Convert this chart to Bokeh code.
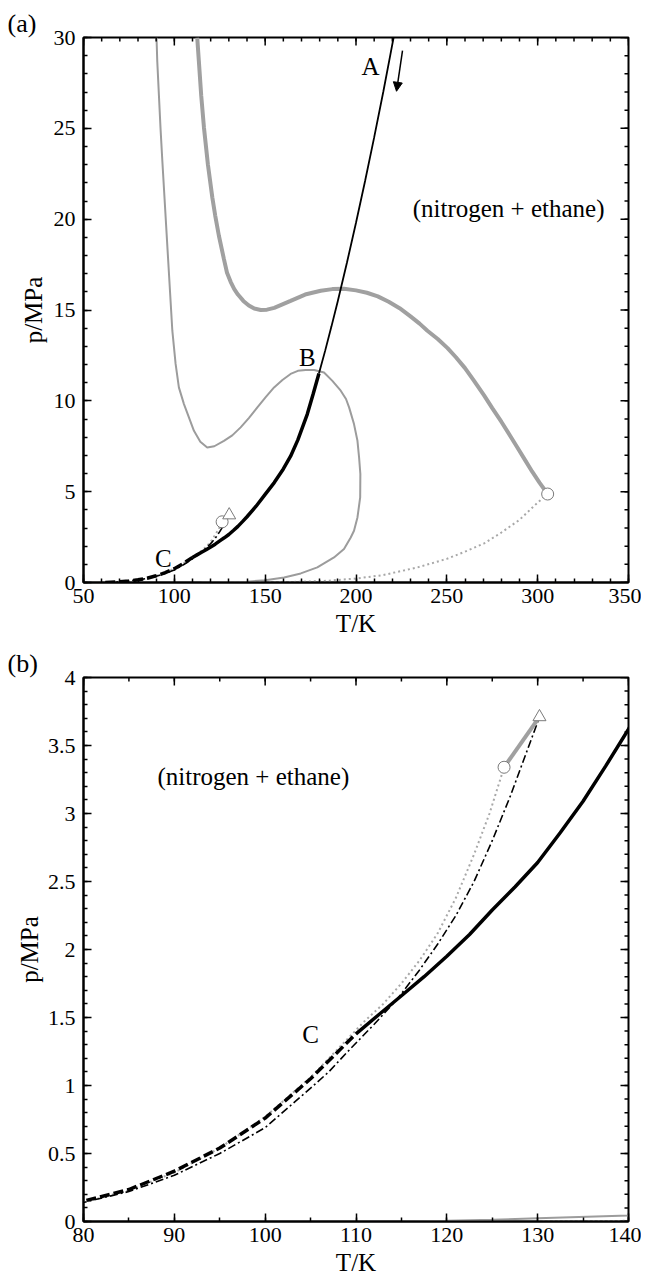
import numpy as np
from bokeh.plotting import figure
from bokeh.models import Range1d, FixedTicker, Label, Arrow, NormalHead
from bokeh.layouts import column
from bokeh.embed import file_html
from bokeh.resources import INLINE

SERIF = "Liberation Serif"

# ---------------- data (T in K, p in MPa) ----------------
# black curve: dashed part, thick solid part, thin solid part
blk_dash_T = [62, 65, 70, 75, 80, 85, 90, 95, 100, 105, 110]
blk_dash_p = [0.0, 0.015, 0.04, 0.08, 0.15, 0.235, 0.37, 0.54, 0.76, 1.05, 1.38]
blk_thick_T = [110, 112.5, 115, 117.5, 120, 122.5, 125, 127.5, 130, 132.5, 135, 137.5, 140,
               145, 150, 155, 160, 164, 168, 173.2, 176.5, 179.6]
blk_thick_p = [1.38, 1.52, 1.66, 1.80, 1.95, 2.11, 2.29, 2.46, 2.64, 2.86, 3.09, 3.35, 3.62,
               4.2, 4.85, 5.5, 6.25, 6.95, 7.85, 9.27, 10.4, 11.5]
blk_thin_T = [179.6, 183, 186.5, 190, 195, 200, 205, 210, 215, 219, 220.7]
blk_thin_p = [11.5, 12.75, 14.1, 15.5, 17.6, 19.8, 22.1, 24.5, 27.0, 29.1, 30.0]

# black dash-dot curve
dd_T = [62, 65, 70, 75, 80, 85, 90, 95, 100, 105, 107, 109.1, 112, 114.6, 117, 119, 121, 123, 125, 127, 129.6, 130.2]
dd_p = [0.0, 0.01, 0.04, 0.08, 0.14, 0.22, 0.34, 0.50, 0.69, 0.98, 1.10, 1.25, 1.45, 1.64, 1.85, 2.04, 2.25, 2.50, 2.80, 3.13, 3.60, 3.71]

# grey dotted: nitrogen vapour pressure
n2_T = [63, 70, 75, 80, 85, 90, 95, 100, 105, 110.9, 113, 115, 117, 119, 121, 123, 124.7, 126.3]
n2_p = [0.013, 0.04, 0.076, 0.14, 0.23, 0.36, 0.54, 0.77, 1.06, 1.47, 1.60, 1.75, 1.92, 2.12, 2.38, 2.70, 3.0, 3.34]

# grey dotted: ethane vapour pressure
et_T = [130, 150, 170, 185, 200, 215, 233.8, 250, 260, 270.5, 280, 290, 300, 305.5]
et_p = [0.0, 0.01, 0.04, 0.10, 0.22, 0.41, 0.83, 1.30, 1.70, 2.15, 2.75, 3.45, 4.4, 4.87]

# grey thick: critical line
cr_T = [112.6, 113.5, 114.8, 116.3, 118.5, 120.9, 122.5, 124.5, 127.3, 129, 131, 133, 135, 138, 141, 144,
        147.5, 151, 155, 164, 172, 180.6, 187, 193.4, 200, 206, 212, 218, 224, 230, 235, 239.3, 245,
        250.4, 255, 260, 265, 270.5, 275, 280, 285, 289, 293, 297, 301, 305.5]
cr_p = [30, 28.7, 26.8, 25.05, 23.0, 21.2, 20.2, 19.1, 17.8, 17.05, 16.55, 16.15, 15.85, 15.5, 15.25, 15.08,
        15.0, 15.02, 15.12, 15.5, 15.85, 16.06, 16.15, 16.17, 16.08, 15.95, 15.75, 15.45, 15.1, 14.65, 14.25,
        13.86, 13.4, 12.9, 12.4, 11.8, 11.1, 10.3, 9.6, 8.85, 8.05, 7.4, 6.75, 6.1, 5.5, 4.87]

# grey thin: loop curve
lp_T = [90.2, 90.6, 92.4, 93.4, 96.1, 98.9, 100.7, 102.5, 105.3, 110.8, 114.3, 118.1, 122, 127.3, 131.9,
        136.5, 141, 145.7, 150.3, 154.9, 159.5, 164, 168, 172.3, 177, 182.4, 187, 191.6, 194.5, 196.2,
        198.9, 200.8, 201.7, 202.4, 202.3, 200.8, 198.9, 197.1, 193.4, 187.9, 178.7, 169.6, 160.4, 150,
        140, 130, 125, 120, 115]
lp_p = [30, 28.7, 25, 23.2, 18.6, 13.86, 12.03, 10.74, 9.82, 8.35, 7.75, 7.43, 7.5, 7.8, 8.1,
        8.54, 9.05, 9.64, 10.2, 10.74, 11.15, 11.48, 11.65, 11.7, 11.7, 11.56, 11.1, 10.56, 10.1, 9.64,
        8.72, 7.8, 6.88, 5.97, 4.68, 3.58, 2.85, 2.48, 1.84, 1.38, 0.83, 0.5, 0.28, 0.13,
        0.045, 0.024, 0.012, 0.005, 0.0]

# grey thick short segment between the two end points
seg_T = [126.3, 130.2]
seg_p = [3.34, 3.71]

# markers
circ_a_T = [305.5, 126.3]
circ_a_p = [4.87, 3.34]
circ_b_T = [126.3]
circ_b_p = [3.34]
tri_T = [130.2]
tri_p = [3.71]

# ticks
a_x_ticks = [50, 100, 150, 200, 250, 300, 350]
a_x_labels = ["50", "100", "150", "200", "250", "300", "350"]
a_y_ticks = [0, 5, 10, 15, 20, 25, 30]
a_y_labels = ["0", "5", "10", "15", "20", "25", "30"]
b_x_ticks = [80, 90, 100, 110, 120, 130, 140]
b_x_labels = ["80", "90", "100", "110", "120", "130", "140"]
b_y_ticks = [0, 0.5, 1, 1.5, 2, 2.5, 3, 3.5, 4]
b_y_labels = ["0", "0.5", "1", "1.5", "2", "2.5", "3", "3.5", "4"]

GREY_THICK = "#a0a0a0"
GREY_THIN = "#9c9c9c"
GREY_DOT = "#a8a8a8"


def style_axis(ax, ticks, minor, labels, standoff, title, title_standoff):
    ax.ticker = FixedTicker(ticks=ticks, minor_ticks=minor)
    ax.axis_line_color = "black"
    ax.axis_line_width = 2
    ax.major_tick_in = 8
    ax.major_tick_out = 0
    ax.minor_tick_in = 4
    ax.minor_tick_out = 0
    ax.major_tick_line_color = "black"
    ax.minor_tick_line_color = "black"
    ax.major_tick_line_width = 1.5
    ax.minor_tick_line_width = 1.5
    ax.major_label_overrides = {t: l for t, l in zip(ticks, labels)}
    ax.major_label_text_font = SERIF
    ax.major_label_text_font_size = "22px"
    ax.major_label_text_color = "black"
    ax.major_label_standoff = standoff
    ax.axis_label = title
    ax.axis_label_text_font = SERIF
    ax.axis_label_text_font_size = "25px"
    ax.axis_label_text_font_style = "normal"
    ax.axis_label_text_color = "black"
    ax.axis_label_standoff = title_standoff


def mirror_ticks(p, xt, xminor, yt, yminor, xr, yr):
    # inward ticks on the top and right frame edges (half of each dash is clipped by the frame)
    p.scatter(xt, [yr[1]] * len(xt), marker="dash", size=16, angle=np.pi / 2,
              line_color="black", line_width=1.5)
    p.scatter(xminor, [yr[1]] * len(xminor), marker="dash", size=8, angle=np.pi / 2,
              line_color="black", line_width=1.5)
    p.scatter([xr[1]] * len(yt), yt, marker="dash", size=16,
              line_color="black", line_width=1.5)
    p.scatter([xr[1]] * len(yminor), yminor, marker="dash", size=8,
              line_color="black", line_width=1.5)


def make_fig(xr, yr, top, fh, bottom, tag):
    p = figure(x_range=Range1d(*xr), y_range=Range1d(*yr),
               frame_width=545, frame_height=fh,
               min_border_left=83, min_border_right=13,
               min_border_top=top, min_border_bottom=bottom,
               output_backend="svg", toolbar_location=None)
    p.title.text = tag
    p.title.align = "left"
    p.title.offset = -76
    p.title.standoff = 0
    p.title.vertical_align = "bottom"
    p.title.text_font = SERIF
    p.title.text_font_size = "26px"
    p.title.text_font_style = "normal"
    p.title.text_color = "black"
    p.xgrid.visible = False
    p.ygrid.visible = False
    p.outline_line_color = "black"
    p.outline_line_width = 2
    p.background_fill_color = "white"
    p.border_fill_color = "white"
    return p


def draw_curves(p, circ_T, circ_p):
    p.line(lp_T, lp_p, line_color=GREY_THIN, line_width=2)
    p.line(cr_T, cr_p, line_color=GREY_THICK, line_width=4)
    p.line(et_T, et_p, line_color=GREY_DOT, line_width=2, line_dash="2 3")
    p.line(n2_T, n2_p, line_color=GREY_DOT, line_width=2, line_dash="2 3")
    p.line(dd_T, dd_p, line_color="black", line_width=1.6, line_dash="8 3 2 3")
    p.line(blk_dash_T, blk_dash_p, line_color="black", line_width=3.5, line_dash="10 4")
    p.line(blk_thick_T, blk_thick_p, line_color="black", line_width=3.5)
    p.line(blk_thin_T, blk_thin_p, line_color="black", line_width=1.8)
    p.line(seg_T, seg_p, line_color=GREY_THICK, line_width=4)
    p.scatter(circ_T, circ_p, marker="circle", size=12, fill_color="white",
              line_color="#7a7a7a", line_width=1)
    p.scatter(tri_T, tri_p, marker="triangle", size=13, fill_color="white",
              line_color="#7a7a7a", line_width=1)


def txt(p, x, y, s, size="25px"):
    p.add_layout(Label(x=x, y=y, text=s, text_font=SERIF, text_font_size=size,
                       text_align="center", text_baseline="middle",
                       text_color="black"))


# ---------------- panel (a) ----------------
pa = make_fig((50, 350), (0, 30), 37, 545, 64, "(a)")
draw_curves(pa, circ_a_T, circ_a_p)
a_xminor = list(np.arange(50, 351, 10))
a_yminor = list(np.arange(0, 30.1, 1))
style_axis(pa.xaxis[0], a_x_ticks, a_xminor, a_x_labels, 6, "T/K", 4)
style_axis(pa.yaxis[0], a_y_ticks, a_yminor, a_y_labels, 8, "p/MPa", 4)
mirror_ticks(pa, a_x_ticks, a_xminor, a_y_ticks, a_yminor, (50, 350), (0, 30))

pa.add_layout(Arrow(end=NormalHead(size=9, fill_color="black", line_color="black"),
                    x_start=225.6, y_start=29.28, x_end=222.3, y_end=27.04,
                    line_color="black", line_width=1.5))
txt(pa, 208, 28.4, "A")
txt(pa, 173.2, 12.4, "B")
txt(pa, 94, 1.3, "C")
txt(pa, 284, 20.6, "(nitrogen + ethane)")

# ---------------- panel (b) ----------------
pb = make_fig((80, 140), (0, 4), 30, 544, 54, "(b)")
draw_curves(pb, circ_b_T, circ_b_p)
b_xminor = list(np.arange(80, 140.1, 5))
b_yminor = list(np.round(np.arange(0, 4.01, 0.1), 2))
style_axis(pb.xaxis[0], b_x_ticks, b_xminor, b_x_labels, 6, "T/K", 4)
style_axis(pb.yaxis[0], b_y_ticks, b_yminor, b_y_labels, 8, "p/MPa", 2)
mirror_ticks(pb, b_x_ticks, b_xminor, b_y_ticks, b_yminor, (80, 140), (0, 4))

txt(pb, 105, 1.375, "C")
txt(pb, 98.7, 3.27, "(nitrogen + ethane)")

layout = column(pa, pb, spacing=0)
open("out.html", "w").write(file_html(layout, INLINE))
